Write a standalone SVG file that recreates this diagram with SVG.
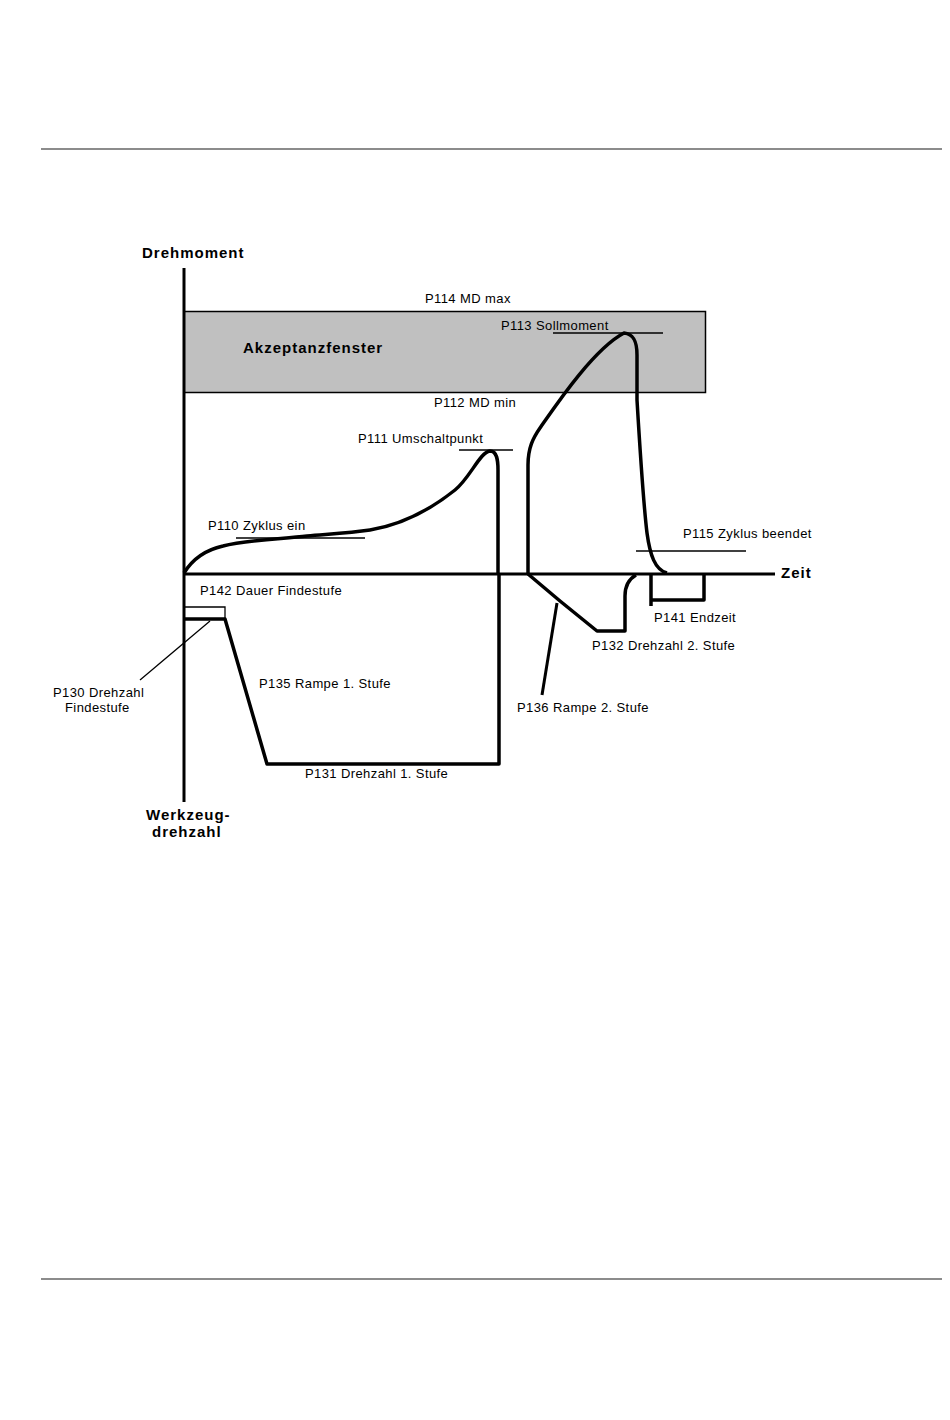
<svg xmlns="http://www.w3.org/2000/svg" width="950" height="1420" viewBox="0 0 950 1420">
<style>
.lbl{font-family:"Liberation Sans",Arial,sans-serif;font-size:13px;letter-spacing:0.4px;fill:#000}
.bld{font-family:"Liberation Sans",Arial,sans-serif;font-size:15px;font-weight:bold;letter-spacing:1px;fill:#000}
.thick{fill:none;stroke:#000;stroke-width:3.5;stroke-linejoin:round;stroke-linecap:butt}
.axis{fill:none;stroke:#000;stroke-width:3}
.thin{fill:none;stroke:#000;stroke-width:1.3}
.sep{stroke:#666;stroke-width:1.5}
</style>
<rect width="950" height="1420" fill="#fff"/>
<g id="page">
<line class="sep" x1="41" y1="149" x2="942" y2="149"/>
<line class="sep" x1="41" y1="1279" x2="942" y2="1279"/>
</g>
<g id="akzeptanzfenster">
<rect x="184" y="311.5" width="521.5" height="81" fill="#c0c0c0" stroke="#000" stroke-width="1.5"/>
<text class="bld" x="243" y="353">Akzeptanzfenster</text>
</g>
<g id="axes">
<line class="axis" x1="184" y1="268" x2="184" y2="802"/>
<line class="axis" x1="184" y1="574" x2="775" y2="574"/>
<text class="bld" x="142" y="258">Drehmoment</text>
<text class="bld" x="781" y="578">Zeit</text>
<text class="bld" x="146" y="820">Werkzeug-</text>
<text class="bld" x="152" y="837">drehzahl</text>
</g>
<g id="connectors">
<path class="thick" d="M184,573 C192,560 205,550 223,546 C245,540 280,539 307,536 C330,534 350,533 370,530 C400,525 430,510 455,490 C470,478 480,452 490,451 C497,451 498,460 498,470 L498,574"/>
<path class="thick" d="M528,574 L528,465 C528,448 533,438 540,428 C552,411 592,350 624,333 C634,334 637,342 637,355 L637,400 C640,450 643,500 647,533 C650,555 655,570 667,573"/>
<path class="thick" d="M184,619 L225,619 L267,764 L499,764 L499,574"/>
<path class="thin" d="M184,607 L225,607 L225,619"/>
<path class="thick" d="M528,574 L560,601 L597,631 L625,631 L625,596 C625,585 629,579 636,575"/>
<path class="thick" d="M651,574 L651,606 M651,600 L704,600 L704,574"/>
<line class="thin" x1="553" y1="333" x2="663" y2="333"/>
<line class="thin" x1="459" y1="450" x2="513" y2="450"/>
<line class="thin" x1="236" y1="538" x2="365" y2="538"/>
<line class="thin" x1="636" y1="551" x2="746" y2="551"/>
<line class="thin" x1="210" y1="621" x2="140" y2="680"/>
<line class="axis" x1="557" y1="603" x2="542" y2="695"/>
</g>
<g id="labels">
<text class="lbl" x="425" y="303">P114 MD max</text>
<text class="lbl" x="501" y="330">P113 Sollmoment</text>
<text class="lbl" x="434" y="407">P112 MD min</text>
<text class="lbl" x="358" y="443">P111 Umschaltpunkt</text>
<text class="lbl" x="208" y="530">P110 Zyklus ein</text>
<text class="lbl" x="683" y="538">P115 Zyklus beendet</text>
<text class="lbl" x="200" y="595">P142 Dauer Findestufe</text>
<text class="lbl" x="654" y="622">P141 Endzeit</text>
<text class="lbl" x="592" y="650">P132 Drehzahl 2. Stufe</text>
<text class="lbl" x="259" y="688">P135 Rampe 1. Stufe</text>
<text class="lbl" x="53" y="697">P130 Drehzahl</text>
<text class="lbl" x="65" y="712">Findestufe</text>
<text class="lbl" x="517" y="712">P136 Rampe 2. Stufe</text>
<text class="lbl" x="305" y="778">P131 Drehzahl 1. Stufe</text>
</g>
</svg>
